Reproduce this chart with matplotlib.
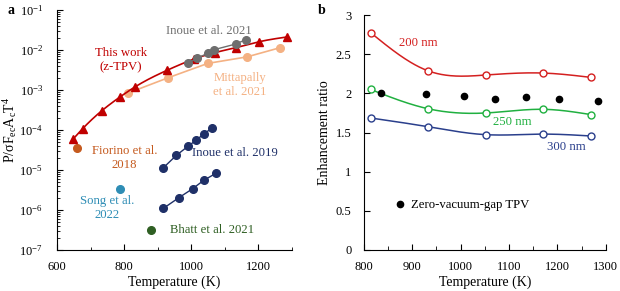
import numpy as np
import matplotlib
matplotlib.use("Agg")
import matplotlib.pyplot as plt
from matplotlib.ticker import LogLocator, MultipleLocator, NullFormatter

plt.rcParams["font.family"] = ["Liberation Serif", "DejaVu Serif"]
plt.rcParams["mathtext.fontset"] = "custom"
plt.rcParams["mathtext.rm"] = "Liberation Serif"
plt.rcParams["mathtext.it"] = "Liberation Serif:italic"
plt.rcParams["font.size"] = 10

# ---- panel a data ----
this_T = [647, 676, 733, 789, 833, 928, 1008, 1071, 1133, 1202, 1284]
this_P = [5.8e-5, 1.07e-4, 3.0e-4, 6.8e-4, 1.2e-3, 3.1e-3, 5.9e-3, 8.6e-3, 1.14e-2, 1.6e-2, 2.1e-2]

mitt_T = [811, 930, 1049, 1166, 1265]
mitt_P = [8.3e-4, 2.0e-3, 4.6e-3, 6.7e-3, 1.14e-2]

ino21_T = [989, 1018, 1049, 1069, 1132, 1162]
ino21_P = [4.6e-3, 6.2e-3, 8.3e-3, 1.02e-2, 1.4e-2, 1.8e-2]

ino19a_T = [916, 955, 990, 1015, 1037, 1062]
ino19a_P = [1.12e-5, 2.3e-5, 3.9e-5, 5.6e-5, 7.9e-5, 1.12e-4]
ino19b_T = [917, 962, 1004, 1037, 1074]
ino19b_P = [1.1e-6, 2.0e-6, 3.4e-6, 5.5e-6, 8.3e-6]

fiorino_T, fiorino_P = [660], [3.5e-5]
song_T, song_P = [787], [3.4e-6]
bhatt_T, bhatt_P = [881], [3.2e-7]

# ---- panel b data ----
gap_T = [814, 932, 1052, 1171, 1269]
r200 = [2.775, 2.29, 2.235, 2.26, 2.205]
r250 = [2.05, 1.805, 1.75, 1.797, 1.73]
r300 = [1.686, 1.575, 1.473, 1.48, 1.456]
zero_T = [835, 929, 1006, 1070, 1135, 1204, 1285]
zero_r = [2.0, 1.99, 1.97, 1.93, 1.95, 1.93, 1.90]


def spline(x, y, n=200):
    """natural cubic spline through the points, for drawing smooth curves"""
    x = np.asarray(x, float)
    y = np.asarray(y, float)
    k = len(x)
    h = np.diff(x)
    A = np.zeros((k, k))
    b = np.zeros(k)
    A[0, 0] = A[-1, -1] = 1
    for i in range(1, k - 1):
        A[i, i - 1] = h[i - 1]
        A[i, i] = 2 * (h[i - 1] + h[i])
        A[i, i + 1] = h[i]
        b[i] = 3 * ((y[i + 1] - y[i]) / h[i] - (y[i] - y[i - 1]) / h[i - 1])
    c = np.linalg.solve(A, b)
    xs = np.linspace(x[0], x[-1], n)
    idx = np.clip(np.searchsorted(x, xs) - 1, 0, k - 2)
    dx = xs - x[idx]
    hi = h[idx]
    bb = (y[idx + 1] - y[idx]) / hi - hi * (2 * c[idx] + c[idx + 1]) / 3
    dd = (c[idx + 1] - c[idx]) / (3 * hi)
    ys = y[idx] + bb * dx + c[idx] * dx ** 2 + dd * dx ** 3
    return xs, ys


RED = "#C00000"
SALMON = "#F4B183"
GRAY = "#6E6E6E"
NAVY = "#1F3068"
ORANGE = "#C55A1E"
TEAL = "#2E8DB5"
GREEN = "#2F5F23"

fig = plt.figure(figsize=(6.2, 2.91), dpi=100)
ax = fig.add_axes([0.092, 0.141, 0.379, 0.825])

# panel a
ax.plot(mitt_T, mitt_P, "-o", color=SALMON, ms=5.5, lw=1.2, zorder=2)
xs, ys = spline(this_T, np.log10(this_P))
ax.plot(xs, 10 ** ys, color=RED, lw=1.2, zorder=3)
ax.plot(this_T, this_P, "^", color=RED, ms=6, zorder=3)
ax.plot(ino21_T, ino21_P, "-o", color=GRAY, ms=5.5, lw=1.0, zorder=4)
ax.plot(ino19a_T, ino19a_P, "-o", color=NAVY, ms=5.5, lw=1.0)
ax.plot(ino19b_T, ino19b_P, "-o", color=NAVY, ms=5.5, lw=1.0)
ax.plot(fiorino_T, fiorino_P, "o", color=ORANGE, ms=5.5)
ax.plot(song_T, song_P, "o", color=TEAL, ms=5.5)
ax.plot(bhatt_T, bhatt_P, "o", color=GREEN, ms=5.5)

ax.set_yscale("log")
ax.set_xlim(600, 1300)
ax.set_ylim(1e-7, 1e-1)
ax.xaxis.set_major_locator(MultipleLocator(200))
ax.xaxis.set_minor_locator(MultipleLocator(100))
ax.yaxis.set_major_locator(LogLocator(base=10, numticks=10))
ax.yaxis.set_minor_locator(LogLocator(base=10, subs=np.arange(2, 10), numticks=10))
ax.yaxis.set_minor_formatter(NullFormatter())
ax.tick_params(which="both", direction="in", labelsize=9)
ax.tick_params(which="major", length=4)
ax.tick_params(which="minor", length=2)
ax.tick_params(axis="x", pad=8)
ax.tick_params(axis="y", pad=10)
for s in ["top", "right"]:
    ax.spines[s].set_visible(False)
ax.set_xlabel("Temperature (K)", fontsize=10, labelpad=2)
ax.set_ylabel(r"P/σF$_{\mathrm{ec}}$A$_{\mathrm{c}}$T$^{4}$", fontsize=10)
ax.yaxis.set_label_coords(-0.16, 0.5)

fs = 9.2
ax.text(791, 5.5e-3, "This work\n(z-TPV)", color=RED, fontsize=fs, ha="center", va="center",
        linespacing=1.25)
ax.text(1053, 3.0e-2, "Inoue et al. 2021", color=GRAY, fontsize=fs, ha="center", va="center")
ax.text(1145, 1.3e-3, "Mittapally\net al. 2021", color=SALMON, fontsize=fs, ha="center",
        va="center", linespacing=1.25)
ax.text(801, 2.0e-5, "Fiorino et al.\n2018", color=ORANGE, fontsize=fs, ha="center",
        va="center", linespacing=1.25)
ax.text(1130, 2.6e-5, "Inoue et al. 2019", color=NAVY, fontsize=fs, ha="center", va="center")
ax.text(749, 1.1e-6, "Song et al.\n2022", color=TEAL, fontsize=fs, ha="center", va="center",
        linespacing=1.25)
ax.text(1062, 3.2e-7, "Bhatt et al. 2021", color=GREEN, fontsize=fs, ha="center", va="center")
fig.text(0.012, 0.965, "a", fontsize=10, fontweight="bold", va="center")

# panel b
RED_B = "#D42020"
GREEN_B = "#20B040"
BLUE_B = "#2A3F8C"
bx = fig.add_axes([0.587, 0.141, 0.390, 0.807])
for vals, col in [(r200, RED_B), (r250, GREEN_B), (r300, BLUE_B)]:
    xs, ys = spline(gap_T, vals)
    bx.plot(xs, ys, color=col, lw=1.1)
    bx.plot(gap_T, vals, "o", mfc="white", mec=col, ms=5, mew=1.0)
bx.plot(zero_T, zero_r, "o", color="black", ms=4.5, ls="none", label="Zero-vacuum-gap TPV")
bx.set_xlim(800, 1300)
bx.set_ylim(0, 3)
bx.xaxis.set_major_locator(MultipleLocator(100))
bx.xaxis.set_minor_locator(MultipleLocator(50))
bx.yaxis.set_major_locator(MultipleLocator(0.5))
bx.yaxis.set_major_formatter(plt.FuncFormatter(lambda v, p: f"{v:g}"))
bx.tick_params(which="both", direction="in", labelsize=9)
bx.tick_params(which="major", length=4)
bx.tick_params(which="minor", length=3)
bx.tick_params(axis="x", pad=8)
bx.tick_params(axis="y", pad=9)
for s in ["top", "right"]:
    bx.spines[s].set_visible(False)
bx.set_xlabel("Temperature (K)", fontsize=10, labelpad=2)
bx.set_ylabel("Enhancement ratio", fontsize=10)
bx.yaxis.set_label_coords(-0.135, 0.5)
bx.text(912, 2.65, "200 nm", color=RED_B, fontsize=fs, ha="center", va="center")
bx.text(1107, 1.635, "250 nm", color=GREEN_B, fontsize=fs, ha="center", va="center")
bx.text(1218, 1.31, "300 nm", color=BLUE_B, fontsize=fs, ha="center", va="center")
bx.legend(loc="center left", bbox_to_anchor=(0.08, 0.19), frameon=False, fontsize=fs,
          handlelength=0.8, handletextpad=0.5)
fig.text(0.513, 0.965, "b", fontsize=10, fontweight="bold", va="center")

fig.savefig("out.png", dpi=100)
